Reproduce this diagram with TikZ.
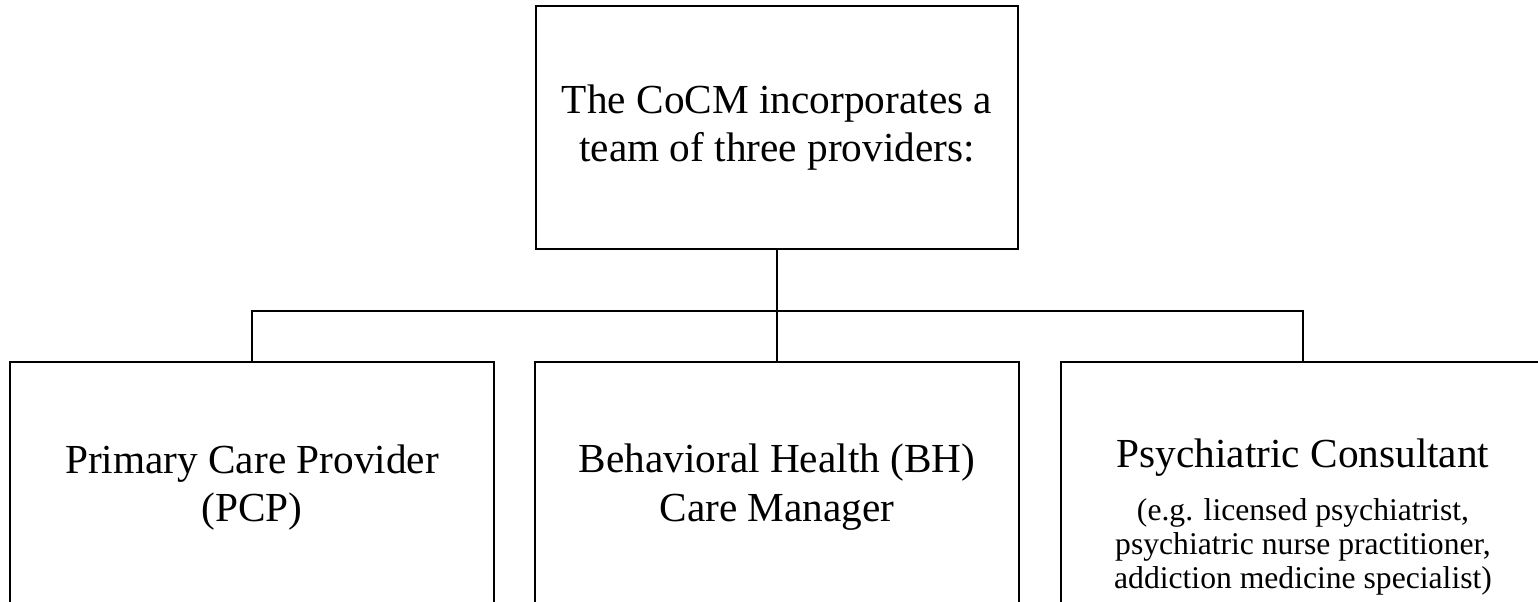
\documentclass[tikz,border=0pt]{standalone}
\usepackage{fontspec}
\setmainfont{Liberation Serif}
\usetikzlibrary{positioning}

\newcommand{\detailfont}{\fontsize{18}{19.5}\selectfont}

\begin{document}
\begin{tikzpicture}[
    provider/.style={draw=black, line width=1.4pt, minimum width=9.68cm, minimum height=5cm,
        align=center, inner sep=0pt, font=\fontsize{23.5}{27.5}\selectfont},
    link/.style={line width=1.4pt}
]
    % Page size (the provider boxes run off the bottom edge)
    \useasboundingbox (0,0) rectangle (30.76,-12.04);
    \clip (0,0) rectangle (30.76,-12.04);

    % Team box
    \node[provider, minimum width=9.64cm, minimum height=4.86cm] (team) at (15.54,-2.55)
        {The CoCM incorporates a\\team of three providers:};

    % Provider boxes
    \node[provider, anchor=north] (pcp) at (5.04,-7.22) {Primary Care Provider\\(PCP)};
    \node[provider, anchor=north] (bh) at (15.54,-7.22) {Behavioral Health (BH)\\Care Manager};
    \node[provider, anchor=north, minimum height=6.2cm] (psy) at (26.06,-7.22)
        {Psychiatric Consultant\\[2.5pt]\detailfont (e.g. licensed psychiatrist,\\[-8.2pt]
         \detailfont psychiatric nurse practitioner,\\[-8.2pt]\detailfont addiction medicine specialist)};

    % Connectors
    \coordinate (fork) at (15.54,-6.22);
    \draw[link] (team.south) -- (bh.north);
    \draw[link] (pcp.north) |- (fork) -| (psy.north);
\end{tikzpicture}
\end{document}
